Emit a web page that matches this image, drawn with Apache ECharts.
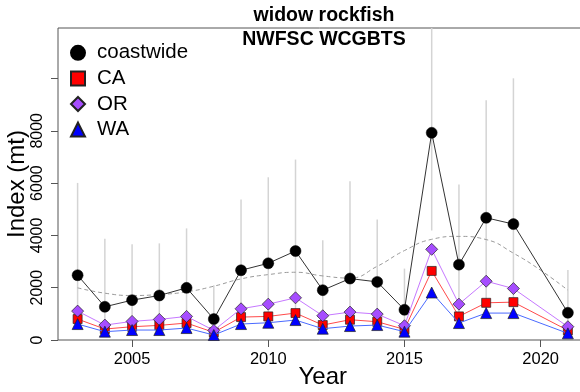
<!DOCTYPE html>
<html><head><meta charset="utf-8">
<script src="https://cdn.jsdelivr.net/npm/echarts@6/dist/echarts.min.js"></script>
<style>html,body{margin:0;padding:0;background:#fff}#c{width:580px;height:392px}</style>
</head><body><div id="c"></div>
<script>
const years = [2003,2004,2005,2006,2007,2008,2009,2010,2011,2012,2013,2014,2015,2016,2017,2018,2019,2021];
const coastwide = [2476,1270,1524,1702,1994,800,2667,2933,3403,1905,2349,2222,1156,7924,2882,4673,4432,1041];
const caValues = [800,419,508,559,648,292,876,902,1029,571,775,698,406,2641,902,1422,1448,368];
const orValues = [1105,571,711,787,902,368,1194,1371,1613,927,1067,990,546,3467,1371,2248,1968,508];
const waValues = [610,318,381,381,457,190,610,660,762,432,533,571,318,1816,648,1029,1029,254];
const ciUpper = [6006,3873,3657,3695,4267,2095,5371,6222,6900,3810,6070,4610,2730,15000,5943,9169,10006,2680];
const ciLower = [500,250,300,350,400,150,550,600,650,400,450,500,250,4190,600,950,950,200];
const smoothYears = [2003,2004,2005,2006,2007,2008,2009,2010,2011,2012,2013,2014,2015,2016,2017,2018,2019,2020,2021];
const smoothValues = [1994,1790,1702,1740,1841,2057,2337,2501,2590,2450,2370,2819,3420,3850,3962,3840,3320,2667,1905];
const xTickLabels = [2005,2010,2015,2020];
const yTickLabels = [0,2000,4000,6000,8000];
const yTicks = [0,2000,4000,6000,8000,10000];

const FONT = "'Liberation Sans', Arial, sans-serif";
const pair = (xs, ys) => xs.map((x, i) => [x, ys[i]]);
const chart = echarts.init(document.getElementById('c'), null, {renderer: 'canvas'});
const borderC = '#222';
chart.setOption({
  animation: false,
  backgroundColor: '#fff',
  textStyle: {fontFamily: FONT},
  title: {
    text: 'widow rockfish\nNWFSC WCGBTS',
    left: 324, textAlign: 'center', top: 4, padding: 0,
    textStyle: {fontSize: 19.5, fontWeight: 'bold', color: '#000', lineHeight: 24, fontFamily: FONT}
  },
  legend: {
    orient: 'vertical', left: 70, top: 40, padding: 0, itemGap: 0,
    itemWidth: 14, itemHeight: 14,
    textStyle: {fontSize: 20.5, color: '#000', lineHeight: 25.6, padding: [0,0,0,7], fontFamily: FONT},
    data: [
      {name: 'coastwide', icon: 'circle'},
      {name: 'CA', icon: 'rect'},
      {name: 'OR', icon: 'diamond'},
      {name: 'WA', icon: 'triangle'}
    ]
  },
  grid: {left: 58, top: 28, right: -7.5, bottom: 52, outerBoundsMode: 'none', containLabel: false,
    show: true, borderColor: '#555', borderWidth: 1, backgroundColor: 'transparent'},
  xAxis: {
    type: 'value', min: 2002.28, max: 2021.72,
    name: 'Year', nameLocation: 'middle', nameGap: 25, nameMoveOverlap: false,
    nameTextStyle: {fontSize: 24, color: '#000', fontFamily: FONT},
    axisLine: {show: false},
    axisTick: {show: true, length: 7, lineStyle: {color: '#555'}, customValues: xTickLabels},
    axisLabel: {fontSize: 16.5, color: '#000', margin: 11, customValues: xTickLabels, formatter: v => String(v)},
    splitLine: {show: false}
  },
  yAxis: {
    type: 'value', min: 0, max: 11930,
    name: 'Index (mt)', nameLocation: 'middle', nameGap: 29, nameMoveOverlap: false,
    nameTextStyle: {fontSize: 24, color: '#000', fontFamily: FONT},
    axisLine: {show: false},
    axisTick: {show: true, length: 7, lineStyle: {color: '#555'}, customValues: yTicks},
    axisLabel: {fontSize: 16, color: '#000', rotate: 90, margin: 12, customValues: yTickLabels, formatter: v => String(v)},
    splitLine: {show: false}
  },
  series: [
    {
      type: 'custom', name: 'CI', clip: true, silent: true,
      data: years.map((y, i) => [y, ciLower[i], ciUpper[i]]),
      encode: {x: 0, y: [1, 2]},
      renderItem: (params, api) => {
        const p1 = api.coord([api.value(0), api.value(1)]);
        const p2 = api.coord([api.value(0), api.value(2)]);
        return {type: 'line', shape: {x1: p1[0], y1: p1[1], x2: p2[0], y2: p2[1]}, style: {stroke: '#d4d4d4', lineWidth: 1.5}};
      },
      z: 1
    },
    {
      type: 'line', name: 'smooth', data: pair(smoothYears, smoothValues), smooth: true, showSymbol: false,
      lineStyle: {color: '#9a9a9a', width: 1, type: [4, 3]}, silent: true, z: 2
    },
    {
      type: 'line', name: 'coastwide', data: pair(years, coastwide), symbol: 'circle', symbolSize: 11,
      lineStyle: {color: '#333', width: 1}, itemStyle: {color: '#000', borderColor: '#000', borderWidth: 0.5}, z: 3
    },
    {
      type: 'line', name: 'CA', data: pair(years, caValues), symbol: 'rect', symbolSize: 9,
      lineStyle: {color: '#ff4a4a', width: 1}, itemStyle: {color: '#ff0000', borderColor: borderC, borderWidth: 0.7}, z: 4
    },
    {
      type: 'line', name: 'OR', data: pair(years, orValues), symbol: 'diamond', symbolSize: 12,
      lineStyle: {color: '#c678ff', width: 1}, itemStyle: {color: '#a64dff', borderColor: borderC, borderWidth: 0.7}, z: 5
    },
    {
      type: 'line', name: 'WA', data: pair(years, waValues), symbol: 'triangle', symbolSize: 11,
      lineStyle: {color: '#4a6aff', width: 1}, itemStyle: {color: '#0000ff', borderColor: borderC, borderWidth: 0.7}, z: 6
    }
  ]
});
</script></body></html>
